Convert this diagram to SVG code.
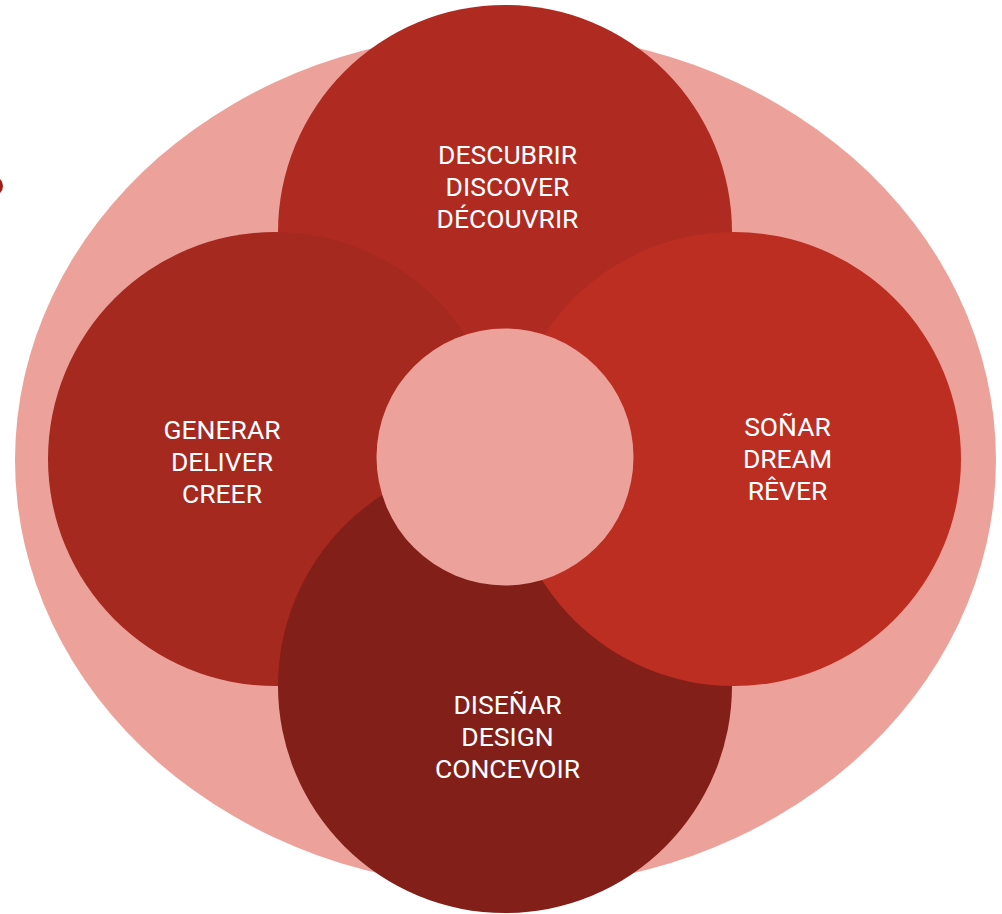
<svg xmlns="http://www.w3.org/2000/svg" width="1002" height="914" viewBox="0 0 1002 914">
<style>
.lbl{font-family:Roboto,"Liberation Sans",sans-serif;font-size:26.5px;fill:#ffffff;text-anchor:middle}
.pink{fill:#ECA29B}
</style>
<rect width="1002" height="914" fill="#ffffff"/>
<circle cx="-7" cy="186" r="10" fill="#9E1D16"/>
<g id="outer"><ellipse class="pink" cx="505.5" cy="460" rx="490.5" ry="428"/></g>
<g id="node-discover">
<circle cx="505" cy="232" r="227" fill="#AF2B22"/>
<text class="lbl" x="507.5" y="164">DESCUBRIR</text>
<text class="lbl" x="507.5" y="196">DISCOVER</text>
<text class="lbl" x="507.5" y="228">DÉCOUVRIR</text>
</g>
<g id="node-deliver">
<circle cx="275" cy="459" r="227" fill="#A5291F"/>
<text class="lbl" x="222" y="439">GENERAR</text>
<text class="lbl" x="222" y="471">DELIVER</text>
<text class="lbl" x="222" y="503">CREER</text>
</g>
<g id="node-design">
<circle cx="505" cy="686" r="227" fill="#831F19"/>
<text class="lbl" x="507.5" y="714">DISEÑAR</text>
<text class="lbl" x="507.5" y="746">DESIGN</text>
<text class="lbl" x="507.5" y="778">CONCEVOIR</text>
</g>
<g id="node-dream">
<circle cx="734" cy="459" r="227" fill="#BC2E22"/>
<text class="lbl" x="787.5" y="436">SOÑAR</text>
<text class="lbl" x="787.5" y="468">DREAM</text>
<text class="lbl" x="787.5" y="500">RÊVER</text>
</g>
<g id="node-center"><circle class="pink" cx="505" cy="457" r="128.5"/></g>
<g id="connectors"></g>
</svg>
